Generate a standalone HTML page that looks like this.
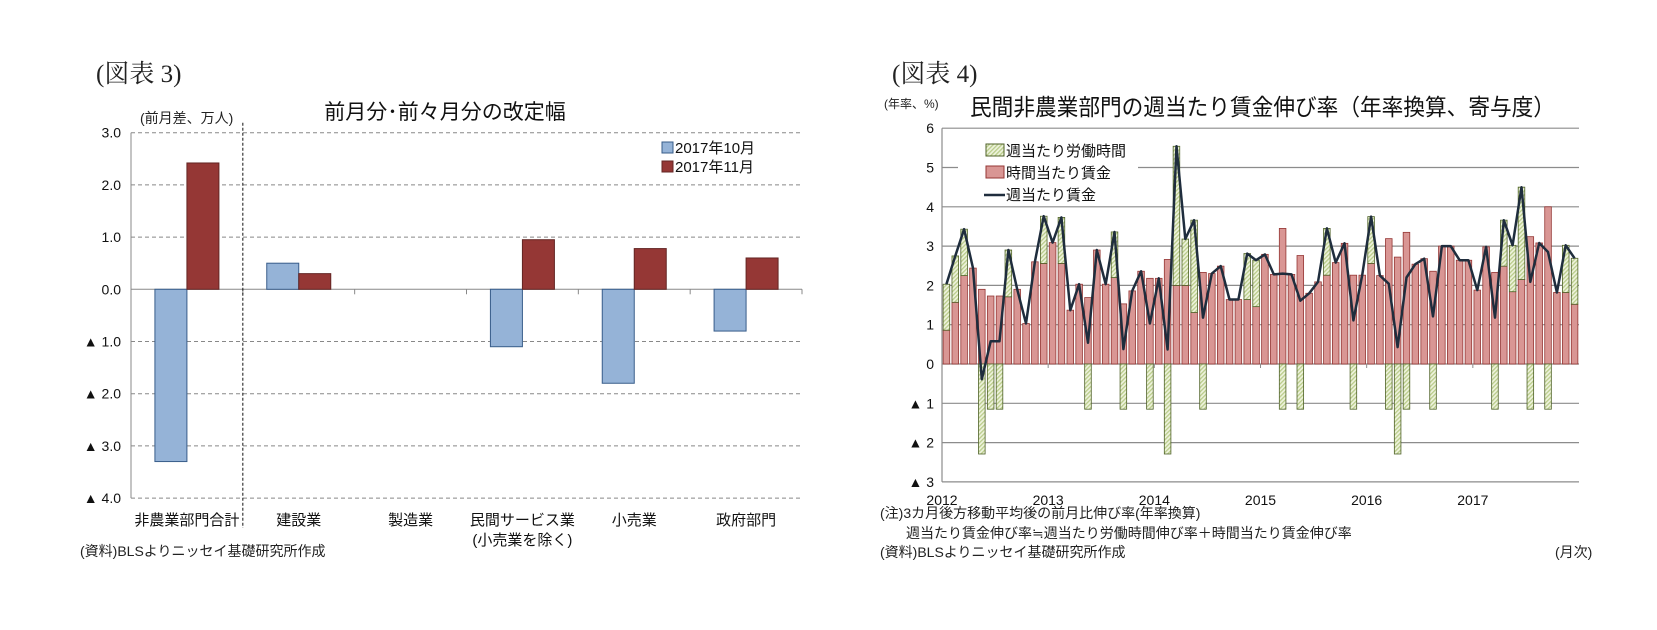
<!DOCTYPE html>
<html><head><meta charset="utf-8">
<style>
html,body{margin:0;padding:0;background:#fff;}
svg{display:block;font-family:"Liberation Sans","Noto Sans CJK JP",sans-serif;}
</style></head>
<body>
<svg id="root" width="1657" height="630" viewBox="0 0 1657 630" xmlns="http://www.w3.org/2000/svg">
<defs>
<pattern id="hatch" patternUnits="userSpaceOnUse" width="3" height="3" patternTransform="rotate(45)">
<rect width="3" height="3" fill="#eef3dd"/><rect width="1.3" height="3" fill="#b9cc8a"/>
</pattern>
</defs>
<g id="left">
<text x="96" y="82" font-family="'Liberation Serif','Noto Serif CJK SC',serif" font-size="25" fill="#222">(図表 3)</text>
<text x="445" y="119" text-anchor="middle" font-size="21" fill="#111">前月分･前々月分の改定幅</text>
<text x="140" y="123" font-size="14" fill="#222">(前月差、万人)</text>
<text x="80" y="556" font-size="14" fill="#222">(資料)BLSよりニッセイ基礎研究所作成</text>
<g id="lgrid"></g><g id="lbars"></g>
<g>
<rect x="662" y="142" width="11" height="11" fill="#95b3d7" stroke="#385d8a"/>
<text x="675" y="153" font-size="15" fill="#111">2017年10月</text>
<rect x="662" y="161" width="11" height="11" fill="#953735" stroke="#632523"/>
<text x="675" y="172" font-size="15" fill="#111">2017年11月</text>
</g>
</g>
<g id="right">
<text x="892" y="82" font-family="'Liberation Serif','Noto Serif CJK SC',serif" font-size="25" fill="#222">(図表 4)</text>
<text x="884" y="108" font-size="12" fill="#222">(年率、%)</text>
<text x="970" y="115" font-size="23" fill="#111" textLength="585" lengthAdjust="spacingAndGlyphs">民間非農業部門の週当たり賃金伸び率（年率換算、寄与度）</text>
<text x="880" y="518" font-size="14" fill="#222">(注)3カ月後方移動平均後の前月比伸び率(年率換算)</text>
<text x="906" y="538" font-size="14" fill="#222">週当たり賃金伸び率≒週当たり労働時間伸び率＋時間当たり賃金伸び率</text>
<text x="880" y="557" font-size="14" fill="#222">(資料)BLSよりニッセイ基礎研究所作成</text>
<text x="1555" y="557" font-size="14" fill="#222">(月次)</text>
<g id="rgrid"></g><g id="rbars"></g><g id="rline"></g>
<g>
<rect x="958" y="138" width="180" height="66" fill="#fff"/>
<rect x="986" y="144" width="18" height="12" fill="url(#hatch)" stroke="#4f6228"/>
<text x="1006" y="156" font-size="15" fill="#111">週当たり労働時間</text>
<rect x="986" y="166" width="18" height="12" fill="#d99694" stroke="#953735"/>
<text x="1006" y="178" font-size="15" fill="#111">時間当たり賃金</text>
<line x1="984" y1="195" x2="1005" y2="195" stroke="#1f2d3d" stroke-width="2.5"/>
<text x="1006" y="200" font-size="15" fill="#111">週当たり賃金</text>
</g>
</g>
</svg>
<script>
// ----- Left chart data -----
const leftCategories = ["非農業部門合計","建設業","製造業","民間サービス業","小売業","政府部門"];
const leftCategories2 = ["","","","(小売業を除く)","",""];
const octValues = [-3.3, 0.5, 0, -1.1, -1.8, -0.8];
const novValues = [2.42, 0.3, 0, 0.95, 0.78, 0.6];
const leftTicks = [3,2,1,0,-1,-2,-3,-4];
const leftTickLabels = ["3.0","2.0","1.0","0.0","▲ 1.0","▲ 2.0","▲ 3.0","▲ 4.0"];

// ----- Right chart data -----
const years = ["2012","2013","2014","2015","2016","2017"];
const hourlyWage = [
0.86,1.57,2.25,2.44,1.9,1.73,1.73,1.71,1.9,1.03,2.6,2.56,
3.09,2.56,1.37,2.03,1.69,2.9,2.03,2.2,1.53,1.86,2.36,2.18,
2.18,2.66,2.0,2.0,1.31,2.33,2.3,2.49,1.64,1.64,1.64,1.46,
2.79,2.28,3.45,2.28,2.76,1.8,2.09,2.26,2.58,3.07,2.26,2.26,
2.56,2.25,3.19,2.72,3.35,2.54,2.68,2.36,3.0,3.0,2.64,2.64,
1.88,2.98,2.33,2.49,1.84,2.15,3.24,3.08,4.0,1.82,1.82,1.52];
const weeklyHours = [
1.17,1.18,1.18,0,-2.29,-1.15,-1.15,1.19,0,0,0,1.2,
0,1.17,0,0,-1.15,0,0,1.16,-1.15,0,0,-1.15,
0,-2.29,3.54,1.18,2.35,-1.15,0,0,0,0,1.17,1.18,
0,0,-1.15,0,-1.15,0,0,1.19,0,0,-1.15,0,
1.19,0,-1.15,-2.29,-1.15,0,0,-1.15,0,0,0,0,
0,0,-1.15,1.17,1.18,2.35,-1.15,0,-1.15,0,1.2,1.17];
const rightTicks = [6,5,4,3,2,1,0,-1,-2,-3];
const rightTickLabels = ["6","5","4","3","2","1","0","▲ 1","▲ 2","▲ 3"];

const NS = "http://www.w3.org/2000/svg";
function mk(tag, attrs, parent, txt){
  const e = document.createElementNS(NS, tag);
  for (const k in attrs) e.setAttribute(k, attrs[k]);
  if (txt !== undefined) e.textContent = txt;
  parent.appendChild(e);
  return e;
}

// ----- Left chart -----
const LX0 = 131, LX1 = 802, LY0 = 289.3, LU = 52.2;
const ly = v => LY0 - v * LU;
const catW = (LX1 - LX0) / leftCategories.length;
const lx = i => LX0 + catW * (i + 0.5);
const lgrid = document.getElementById('lgrid');
leftTicks.forEach((t, i) => {
  const g = mk('line', {x1: LX0, x2: LX1, y1: ly(t), y2: ly(t), stroke: t === 0 ? '#888' : '#888', 'stroke-width': 1, 'stroke-dasharray': t === 0 ? '' : '4,3'}, lgrid);
  
  
  const tx = mk('text', {x: 121, y: ly(t) + 5, 'text-anchor': 'end', 'font-size': 14, fill: '#111'}, lgrid, leftTickLabels[i]);
  
  
});
const lax = mk('line', {x1: LX0, x2: LX0, y1: ly(3), y2: ly(-4), stroke: '#888'}, lgrid);


for (let i = 0; i <= leftCategories.length; i++) {
  const tk = mk('line', {x1: LX0 + catW * i, x2: LX0 + catW * i, y1: LY0, y2: LY0 + 5, stroke: '#888'}, lgrid);
  
  
}
const sep = mk('line', {x1: LX0 + catW, x2: LX0 + catW, y1: ly(3) - 10, y2: 528, stroke: '#111', 'stroke-dasharray': '3,2'}, lgrid);


const lbars = document.getElementById('lbars');
const BW = 32;
leftCategories.forEach((c, i) => {
  const o = octValues[i], n = novValues[i];
  if (o !== 0) {
    const b = mk('rect', {x: lx(i) - BW, y: Math.min(ly(o), LY0), width: BW, height: Math.abs(ly(o) - LY0), fill: '#95b3d7', stroke: '#385d8a', 'stroke-width': 1}, lbars);
    
    
  }
  if (n !== 0) {
    const b = mk('rect', {x: lx(i), y: Math.min(ly(n), LY0), width: BW, height: Math.abs(ly(n) - LY0), fill: '#953735', stroke: '#632523', 'stroke-width': 1}, lbars);
    
    
  }
  const t = mk('text', {x: lx(i), y: 525, 'text-anchor': 'middle', 'font-size': 15, fill: '#111'}, lbars, c);
  
  
  if (leftCategories2[i]) {
    const t2 = mk('text', {x: lx(i), y: 545, 'text-anchor': 'middle', 'font-size': 15, fill: '#111'}, lbars, leftCategories2[i]);
    
    
  }
});

// ----- Right chart -----
const RX0 = 942, RX1 = 1579, RY0 = 364, RU = 39.3;
const ry = v => RY0 - v * RU;
const mW = (RX1 - RX0) / hourlyWage.length;
const rx = i => RX0 + mW * (i + 0.5);
const rgrid = document.getElementById('rgrid');
rightTicks.forEach((t, i) => {
  const g = mk('line', {x1: RX0, x2: RX1, y1: ry(t), y2: ry(t), stroke: '#8c8c8c', 'stroke-width': 1.2}, rgrid);
  
  
  const tx = mk('text', {x: 934, y: ry(t) + 5, 'text-anchor': 'end', 'font-size': 14, fill: '#111'}, rgrid, rightTickLabels[i]);
  
  
});
const rax = mk('line', {x1: RX0, x2: RX0, y1: ry(6), y2: ry(-3), stroke: '#8c8c8c', 'stroke-width': 1.2}, rgrid);


years.forEach((y, k) => {
  const x = RX0 + mW * 12 * k;
  const tk = mk('line', {x1: x + (k ? 0 : 0), x2: x, y1: RY0, y2: RY0 + 4, stroke: '#8c8c8c'}, rgrid);
  
  
  const t = mk('text', {x: x, y: 505, 'text-anchor': 'middle', 'font-size': 14, fill: '#111'}, rgrid, y);
  
  
});
const rbars = document.getElementById('rbars');
const RBW = 6.6;
hourlyWage.forEach((p, i) => {
  const h = weeklyHours[i];
  const b = mk('rect', {x: rx(i) - RBW / 2, y: ry(p), width: RBW, height: RY0 - ry(p), fill: '#d99694', stroke: '#953735', 'stroke-width': 0.8}, rbars);
  
  
  if (h !== 0) {
    const base = h > 0 ? p : 0;
    const top = base + h;
    const g = mk('rect', {x: rx(i) - RBW / 2, y: Math.min(ry(base), ry(top)), width: RBW, height: Math.abs(ry(top) - ry(base)), fill: 'url(#hatch)', stroke: '#4f6228', 'stroke-width': 0.8}, rbars);
    
    
  }
});
const rline = document.getElementById('rline');
const pts = hourlyWage.map((p, i) => rx(i).toFixed(1) + ',' + ry(p + weeklyHours[i]).toFixed(1)).join(' ');
const pl = mk('polyline', {points: pts, fill: 'none', stroke: '#1f2d3d', 'stroke-width': 2.5, 'stroke-linejoin': 'round'}, rline);


</script>
</body></html>
